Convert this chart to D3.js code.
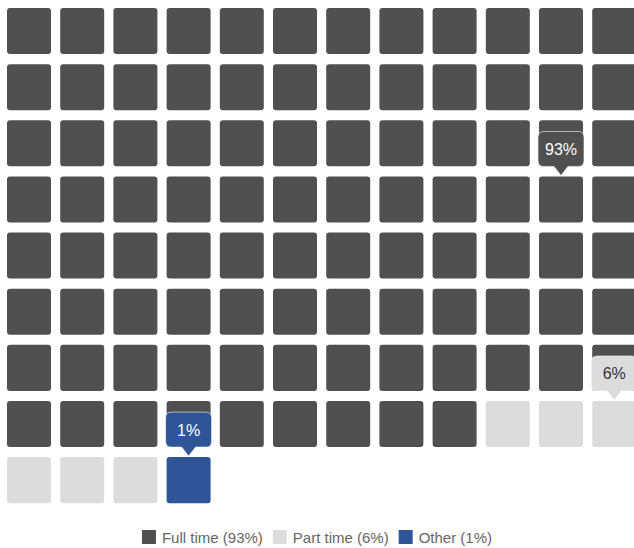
<!DOCTYPE html>
<html>
<head>
<meta charset="utf-8">
<script src="https://cdn.jsdelivr.net/npm/d3@7"></script>
<style>
  html, body { margin: 0; padding: 0; background: #fff; }
  svg { display: block; font-family: "Liberation Sans", Arial, sans-serif; }
</style>
</head>
<body>
<svg id="chart" width="634" height="548"></svg>
<script>
// waffle data
const categories = ['Full time', 'Part time', 'Other'];
const values = [93, 6, 1];
const colors = ['#505050', '#dcdcdc', '#2f5597'];
const labelColors = ['#ffffff', '#333333', '#ffffff'];

const nCols = 12;
const nRows = Math.ceil(d3.sum(values) / nCols);

const svg = d3.select('#chart');

// build the cells
const cells = [];
categories.forEach((c, i) => {
    for (let k = 0; k < values[i]; k++) cells.push({ cat: i });
});
cells.forEach((d, i) => { d.col = i % nCols; d.row = Math.floor(i / nCols); });

const x = d3.scaleBand().domain(d3.range(nCols)).range([2.4, 640.8])
    .paddingInner(0.173).paddingOuter(0.0865);
const y = d3.scaleBand().domain(d3.range(nRows)).range([3, 508.2])
    .paddingInner(0.18).paddingOuter(0.09);

svg.append('g')
    .selectAll('rect')
    .data(cells)
    .enter().append('rect')
    .attr('x', d => x(d.col))
    .attr('y', d => y(d.row))
    .attr('width', x.bandwidth())
    .attr('height', y.bandwidth())
    .attr('rx', 3)
    .attr('fill', d => colors[d.cat]);

// labels sit above the middle cell of each category
let start = 0;
const labels = categories.map((c, i) => {
    const idx = start + Math.floor((values[i] - 1) / 2);
    start += values[i];
    return { cat: i, cell: cells[idx] };
});

const bw = 46, bh = 35, ph = 9, pw = 7, r = 6;
function bubble() {
    // rounded box with a pointer; origin = pointer tip
    const l = -bw / 2, t = -ph - bh, b = -ph, rr = bw / 2;
    return `M0,0 L${-pw},${b} L${l + r},${b} Q${l},${b} ${l},${b - r} L${l},${t + r} Q${l},${t} ${l + r},${t}` +
        ` L${rr - r},${t} Q${rr},${t} ${rr},${t + r} L${rr},${b - r} Q${rr},${b} ${rr - r},${b} L${pw},${b} Z`;
}

const lab = svg.append('g')
    .selectAll('g')
    .data(labels)
    .enter().append('g')
    .attr('transform', d => `translate(${x(d.cell.col) + x.bandwidth() / 2},${y(d.cell.row) - 1})`);

lab.append('path')
    .attr('d', bubble())
    .attr('fill', d => colors[d.cat])
    .attr('stroke', 'rgba(255,255,255,0.6)')
    .attr('stroke-width', 1);

lab.append('text')
    .attr('text-anchor', 'middle')
    .attr('y', -ph - bh / 2 + 6)
    .attr('font-size', '16px')
    .attr('fill', d => labelColors[d.cat])
    .text(d => values[d.cat] + '%');

// legend
const legend = svg.append('g').attr('transform', 'translate(0,537)');
const items = legend.selectAll('g')
    .data(categories)
    .enter().append('g');
items.append('rect')
    .attr('y', -7).attr('width', 14).attr('height', 14)
    .attr('fill', (d, i) => colors[i]);
items.append('text')
    .attr('x', 20).attr('y', 5.5)
    .attr('font-size', '15px')
    .attr('fill', '#666')
    .text((d, i) => `${d} (${values[i]}%)`);

let lx = 0;
items.each(function () {
    d3.select(this).attr('transform', `translate(${lx},0)`);
    lx += this.getBBox().width + 10;
});
legend.attr('transform', `translate(${(634 - (lx - 10)) / 2},537)`);
</script>
</body>
</html>
